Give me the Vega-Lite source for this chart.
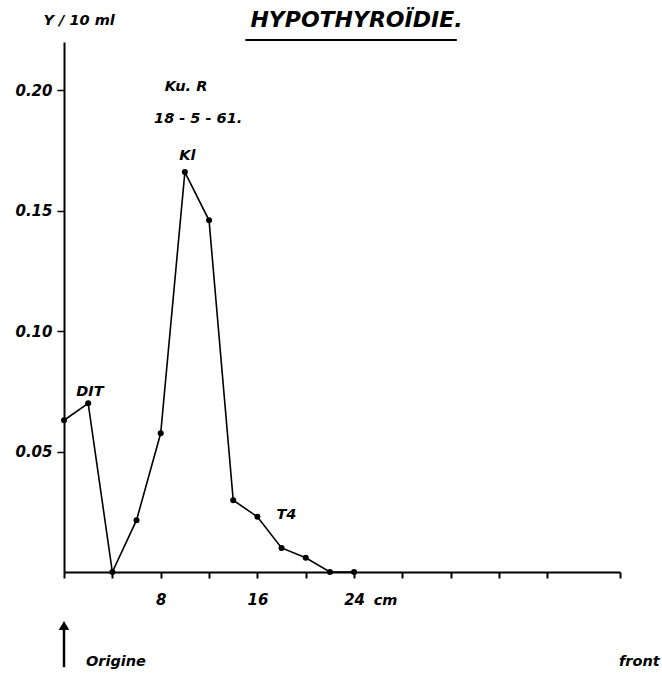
{
  "$schema": "https://vega.github.io/schema/vega-lite/v6.json",
  "autosize": "none",
  "width": 556,
  "height": 530,
  "padding": {"left": 64, "top": 42, "right": 42, "bottom": 102},
  "background": "white",
  "config": {
    "view": {"stroke": null},
    "font": "DejaVu Sans",
    "text": {"font": "DejaVu Sans", "fontStyle": "italic", "fontWeight": "bold", "color": "black"}
  },
  "datasets": {
    "curve": [
      {"x": 0, "y": 0.063},
      {"x": 2, "y": 0.070},
      {"x": 4, "y": 0.000},
      {"x": 6, "y": 0.0215},
      {"x": 8, "y": 0.0576},
      {"x": 10, "y": 0.166},
      {"x": 12, "y": 0.146},
      {"x": 14, "y": 0.0298},
      {"x": 16, "y": 0.0229},
      {"x": 18, "y": 0.0100},
      {"x": 20, "y": 0.0059},
      {"x": 22, "y": 0.0},
      {"x": 24, "y": 0.0}
    ],
    "labels": [
      {"x": 1.25, "y": 0.2287, "text": "Y / 10 ml"},
      {"x": 10.1, "y": 0.2013, "text": "Ku.  R"},
      {"x": 11.1, "y": 0.188, "text": "18 - 5 - 61."},
      {"x": 10.2, "y": 0.1727, "text": "Kl"},
      {"x": 2.15, "y": 0.0746, "text": "DIT"},
      {"x": 18.4, "y": 0.0236, "text": "T4"},
      {"x": 26.6, "y": -0.0122, "text": "cm"},
      {"x": 4.3, "y": -0.0375, "text": "Origine"},
      {"x": 47.6, "y": -0.0375, "text": "front"}
    ],
    "heading": [{"x": 24.2, "y": 0.2292, "text": "HYPOTHYROÏDIE."}],
    "underline": [{"x": 15.0, "x2": 32.5, "y": 0.2208}],
    "arrow": [{"x": 0, "y": -0.024, "y2": -0.0395}],
    "arrowhead": [{"x": 0, "y": -0.0222}]
  },
  "encoding": {
    "x": {
      "field": "x",
      "type": "quantitative",
      "scale": {"domain": [0, 46], "nice": false, "zero": false},
      "axis": {
        "title": null,
        "values": [0, 4, 8, 12, 16, 20, 24, 28, 32, 36, 40, 46],
        "labelExpr": "datum.value == 8 || datum.value == 16 || datum.value == 24 ? datum.label : ''",
        "grid": false,
        "domainColor": "black",
        "domainWidth": 2,
        "tickColor": "black",
        "tickWidth": 2,
        "tickSize": 6,
        "labelPadding": 14,
        "labelFont": "DejaVu Sans",
        "labelFontStyle": "italic",
        "labelFontWeight": "bold",
        "labelFontSize": 15,
        "labelColor": "black"
      }
    },
    "y": {
      "field": "y",
      "type": "quantitative",
      "scale": {"domain": [0, 0.22], "nice": false, "zero": false},
      "axis": {
        "title": null,
        "values": [0.05, 0.1, 0.15, 0.2],
        "format": ".2f",
        "grid": false,
        "domainColor": "black",
        "domainWidth": 2,
        "tickColor": "black",
        "tickWidth": 1.5,
        "tickSize": 7,
        "labelPadding": 5,
        "labelFont": "DejaVu Sans",
        "labelFontStyle": "italic",
        "labelFontWeight": "bold",
        "labelFontSize": 15,
        "labelColor": "black"
      }
    }
  },
  "layer": [
    {
      "data": {"name": "curve"},
      "mark": {
        "type": "line",
        "color": "black",
        "strokeWidth": 1.6,
        "point": {"filled": true, "size": 36, "color": "black", "opacity": 1}
      }
    },
    {
      "data": {"name": "labels"},
      "mark": {"type": "text", "align": "center", "baseline": "middle", "fontSize": 14.5},
      "encoding": {"text": {"field": "text"}}
    },
    {
      "data": {"name": "heading"},
      "mark": {"type": "text", "align": "center", "baseline": "middle", "fontSize": 22},
      "encoding": {"text": {"field": "text"}}
    },
    {
      "data": {"name": "underline"},
      "mark": {"type": "rule", "color": "black", "strokeWidth": 2},
      "encoding": {"x2": {"field": "x2"}}
    },
    {
      "data": {"name": "arrow"},
      "mark": {"type": "rule", "color": "black", "strokeWidth": 2.5},
      "encoding": {"y2": {"field": "y2"}}
    },
    {
      "data": {"name": "arrowhead"},
      "mark": {"type": "point", "shape": "triangle-up", "filled": true, "size": 110, "color": "black", "opacity": 1},
      "encoding": {}
    }
  ]
}
